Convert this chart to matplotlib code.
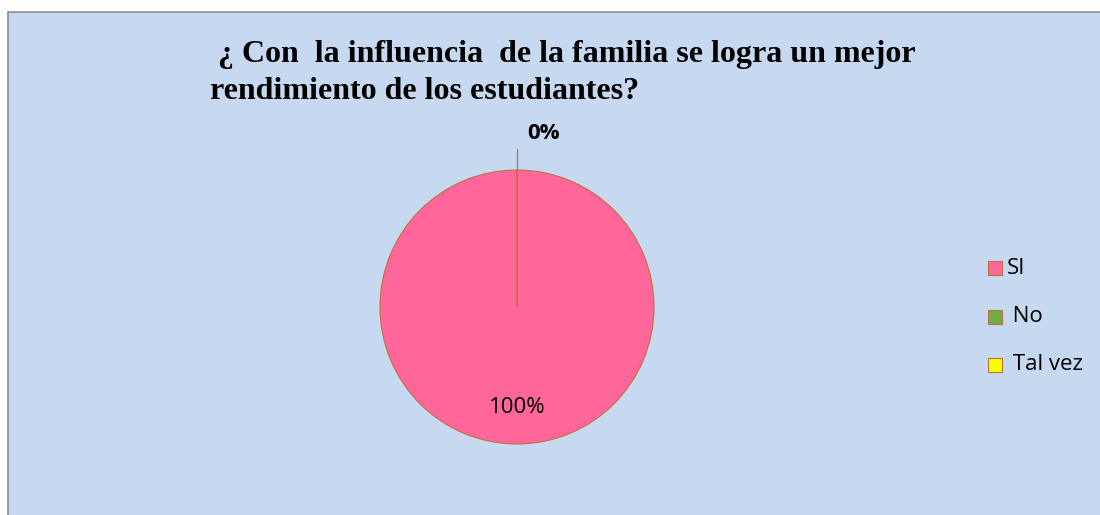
import matplotlib
matplotlib.use("Agg")
import matplotlib.pyplot as plt
from matplotlib.patches import Rectangle

# datos de la encuesta
categorias = ["SI", "No", "Tal vez"]
valores = [100, 0, 0]
colores = ["#FF6699", "#70AD47", "#FFFF00"]
etiquetas_leyenda = ["SI", " No", " Tal vez"]
titulo = " ¿ Con  la influencia  de la familia se logra un mejor\nrendimiento de los estudiantes?"

W, H = 1100, 515
fig = plt.figure(figsize=(W / 100, H / 100), dpi=100)
fig.patch.set_facecolor("white")

# fondo del área del gráfico
fondo = Rectangle((8 / W, -0.01), 1.0, (H - 12) / H + 0.01, transform=fig.transFigure,
                  facecolor="#C6D9F1", edgecolor="#8C8C8C", linewidth=1.2, zorder=-5)
fig.patches.append(fondo)

fig.text(210 / W, 1 - 40 / H, titulo, ha="left", va="top", fontsize=23,
         fontweight="bold", family="Liberation Serif", linespacing=1.38)

# pastel
ax = fig.add_axes([380 / W, (H - 444) / H, 274 / W, 274 / H])
ax.set_zorder(3)
ax.set_facecolor("none")
wedges, _ = ax.pie(valores, colors=colores, startangle=90, radius=1,
                   wedgeprops=dict(edgecolor="#C0703A", linewidth=0.8))
ax.set_xlim(-1, 1)
ax.set_ylim(-1, 1)
ax.set_aspect("equal")
ax.axis("off")

total = sum(valores)
pct = [f"{v / total * 100:.0f}%" for v in valores]

ax.text(0, -0.73, pct[0], ha="center", va="center", fontsize=16,
        family="Open Sans")
# linea guía para las categorías con 0%
ax.plot([0, 0], [1.0, 1.15], color="#C0703A", linewidth=0.9, clip_on=False)
ax.text(0.19, 1.27, pct[1], ha="center", va="center", fontsize=16,
        fontweight="bold", family="Open Sans")

# leyenda
for i, (lab, col) in enumerate(zip(etiquetas_leyenda, colores)):
    y = 1 - (268 + i * 48.5) / H
    fig.patches.append(Rectangle((988 / W, y - 7 / H), 14 / W, 14 / H,
                                 transform=fig.transFigure, facecolor=col,
                                 edgecolor="#C0703A", linewidth=0.8))
    fig.text(1007 / W, y, lab, ha="left", va="center", fontsize=16,
             family="Open Sans")

fig.savefig("out.png", dpi=100, facecolor=fig.get_facecolor())
